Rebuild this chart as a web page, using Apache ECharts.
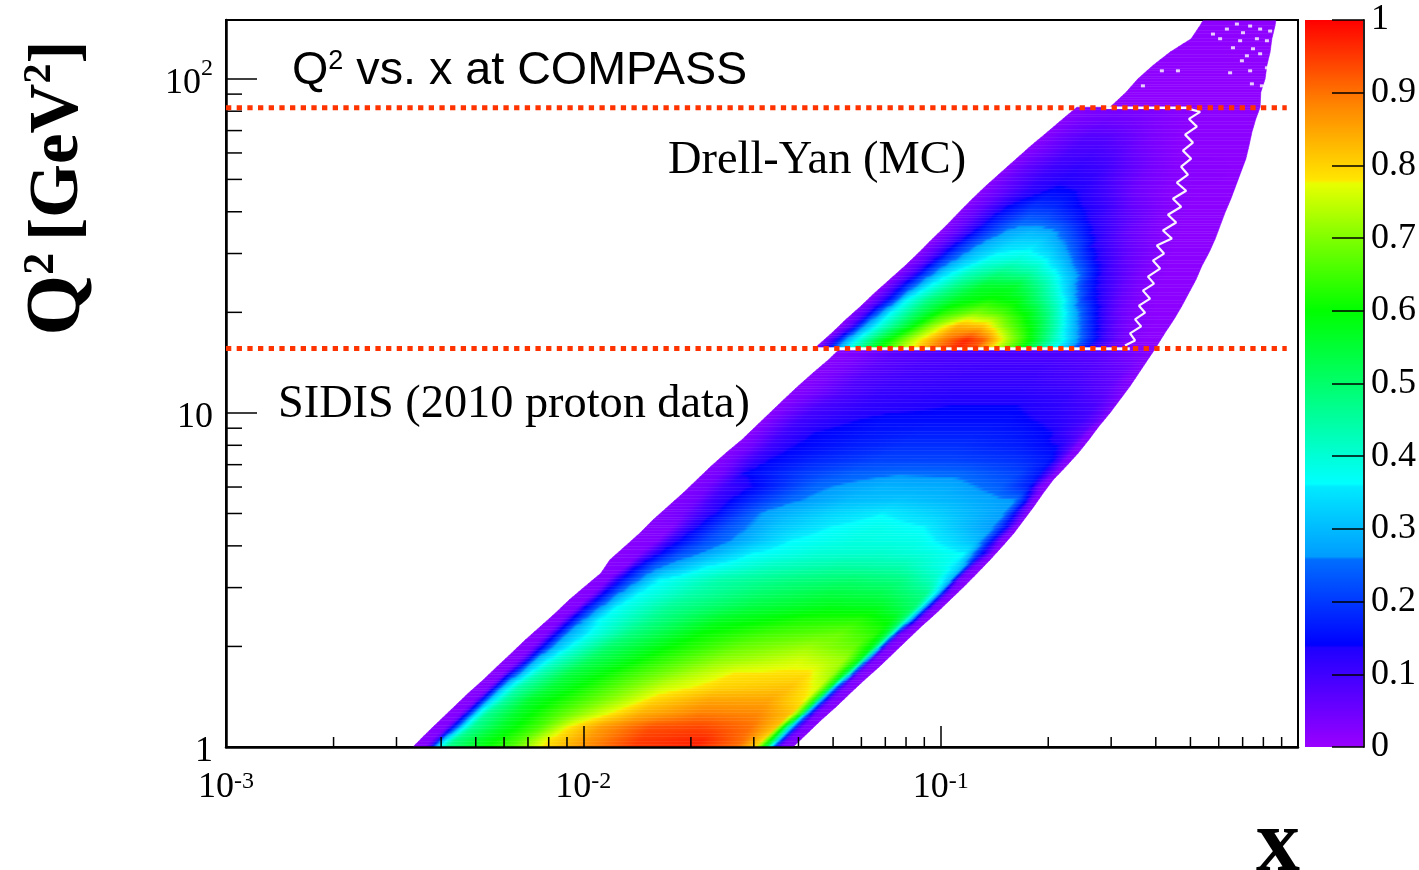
<!DOCTYPE html>
<html><head><meta charset="utf-8">
<style>html,body{margin:0;padding:0;background:#fff}#c{width:1419px;height:870px}</style>
<script src="https://cdn.jsdelivr.net/npm/echarts@6/dist/echarts.min.js"></script>
</head><body><div id="c"></div>
<script>
// ---------- axis ticks ----------
const xMinorTicks=[0.002,0.003,0.004,0.005,0.006,0.007,0.008,0.009,0.02,0.03,0.04,0.05,0.06,0.07,0.08,0.09,0.2,0.3,0.4,0.5,0.6,0.7,0.8,0.9];
const yMinorTicks=[2,3,4,5,6,7,8,9,20,30,40,50,60,70,80,90];
const xTickExponents={'-3':'-3','-2':'-2','-1':'-1'};
const yTickLabels={'0':'{b|1}','1':'{b|10}','2':'{b|10}{s|2}'};
// ---------- colour palette of the z scale ----------
const paletteLevels=[0,0.137,0.14,0.258,0.262,0.358,0.362,0.5,0.6,0.7,0.775,0.78,0.88,1];
const paletteColours=['#9900ff','#1e00ff','#0000ff','#006eff','#009cff','#00eaff','#00ffff','#00ff6a','#00ff00','#80ff00','#e8ff00','#ffe600','#ff8800','#ff0000'];
// ---------- cut lines (Q2 values) ----------
const cutQ2=[81.9,15.6];
const cutX=[0.001,0.93];
// ---------- SIDIS band: log10(Q2) row edges, log10(x) borders, [log10 x, z, ...] per row ----------
const sidisLogQ=[0,0.04,0.08,0.12,0.16,0.2,0.24,0.28,0.32,0.36,0.4,0.44,0.48,0.52,0.56,0.6,0.64,0.68,0.72,0.76,0.8,0.84,0.88,0.92,0.96,1,1.04,1.08,1.12,1.16,1.187];
const sidisLeft=[-2.477,-2.44,-2.401,-2.362,-2.323,-2.281,-2.242,-2.202,-2.163,-2.121,-2.079,-2.04,-1.996,-1.951,-1.926,-1.884,-1.842,-1.805,-1.763,-1.721,-1.682,-1.643,-1.601,-1.556,-1.517,-1.478,-1.439,-1.399,-1.357,-1.313,-1.287];
const sidisRight=[-1.413,-1.374,-1.335,-1.293,-1.254,-1.214,-1.172,-1.133,-1.094,-1.055,-1.013,-0.974,-0.935,-0.898,-0.862,-0.828,-0.795,-0.767,-0.739,-0.713,-0.685,-0.649,-0.615,-0.585,-0.557,-0.526,-0.498,-0.47,-0.445,-0.42,-0.403];
const sidisStops=[
[-2.46,.02,-2.42,.03,-2.41,.12,-2.39,.33,-2.36,.47,-2.29,.56,-2.18,.66,-2.10,.78,-1.98,.87,-1.84,.95,-1.67,.97,-1.55,.9,-1.50,.8,-1.47,.55,-1.455,.34,-1.44,.13,-1.43,.04,-1.39,.02],
[-2.42,.02,-2.38,.03,-2.37,.12,-2.34,.33,-2.31,.46,-2.23,.56,-2.12,.66,-2.04,.78,-1.95,.86,-1.81,.93,-1.67,.94,-1.53,.9,-1.46,.82,-1.44,.6,-1.42,.36,-1.40,.13,-1.39,.04,-1.35,.02],
[-2.38,.02,-2.34,.03,-2.33,.12,-2.30,.33,-2.27,.46,-2.19,.56,-2.07,.66,-1.95,.76,-1.84,.84,-1.67,.89,-1.51,.88,-1.42,.82,-1.39,.62,-1.38,.36,-1.36,.13,-1.35,.04,-1.32,.02],
[-2.34,.02,-2.30,.03,-2.29,.12,-2.26,.33,-2.22,.45,-2.15,.56,-2.01,.65,-1.88,.74,-1.80,.8,-1.65,.85,-1.48,.85,-1.38,.78,-1.35,.6,-1.34,.36,-1.32,.13,-1.31,.04,-1.27,.02],
[-2.30,.02,-2.26,.03,-2.25,.12,-2.22,.32,-2.18,.44,-2.09,.55,-1.95,.64,-1.78,.75,-1.62,.8,-1.42,.82,-1.34,.76,-1.31,.6,-1.30,.36,-1.28,.13,-1.27,.04,-1.23,.02],
[-2.26,.02,-2.22,.03,-2.21,.12,-2.17,.31,-2.13,.42,-2.04,.54,-1.87,.64,-1.70,.73,-1.58,.78,-1.37,.79,-1.30,.72,-1.27,.58,-1.25,.36,-1.24,.13,-1.23,.04,-1.20,.02],
[-2.22,.02,-2.18,.03,-2.16,.12,-2.13,.30,-2.08,.4,-1.98,.52,-1.81,.62,-1.62,.71,-1.39,.76,-1.27,.72,-1.23,.6,-1.21,.36,-1.20,.13,-1.19,.04,-1.15,.02],
[-2.18,.02,-2.14,.03,-2.12,.12,-2.08,.29,-2.03,.38,-1.93,.5,-1.76,.6,-1.56,.68,-1.37,.72,-1.24,.68,-1.19,.58,-1.17,.36,-1.16,.13,-1.15,.04,-1.12,.02],
[-2.14,.02,-2.10,.03,-2.08,.12,-2.04,.28,-1.98,.37,-1.87,.48,-1.67,.6,-1.48,.65,-1.28,.68,-1.18,.63,-1.15,.55,-1.13,.36,-1.12,.13,-1.11,.04,-1.08,.02],
[-2.10,.02,-2.06,.03,-2.04,.12,-2.00,.26,-1.96,.36,-1.81,.47,-1.62,.57,-1.39,.62,-1.23,.63,-1.14,.59,-1.11,.52,-1.09,.36,-1.07,.13,-1.06,.04,-1.04,.02],
[-2.06,.02,-2.01,.03,-2.00,.12,-1.95,.26,-1.91,.36,-1.76,.46,-1.53,.54,-1.31,.58,-1.17,.57,-1.07,.5,-1.05,.36,-1.03,.13,-1.02,.04,-0.99,.02],
[-2.02,.02,-1.97,.03,-1.95,.12,-1.90,.26,-1.85,.36,-1.70,.44,-1.51,.5,-1.31,.54,-1.17,.53,-1.04,.47,-1.01,.34,-0.99,.13,-0.98,.04,-0.95,.02],
[-1.98,.02,-1.93,.03,-1.91,.12,-1.85,.25,-1.79,.36,-1.62,.44,-1.42,.48,-1.25,.5,-1.11,.48,-1.02,.42,-0.97,.3,-0.96,.13,-0.95,.04,-0.92,.02],
[-1.94,.02,-1.88,.03,-1.86,.12,-1.80,.24,-1.66,.36,-1.48,.42,-1.28,.45,-1.11,.44,-0.99,.38,-0.95,.34,-0.93,.26,-0.92,.12,-0.91,.04,-0.88,.02],
[-1.89,.02,-1.84,.03,-1.80,.12,-1.73,.22,-1.53,.36,-1.34,.4,-1.17,.41,-1.03,.39,-0.93,.36,-0.91,.27,-0.89,.18,-0.87,.1,-0.86,.04,-0.85,.02],
[-1.85,.02,-1.79,.03,-1.75,.12,-1.65,.22,-1.42,.36,-1.23,.39,-1.06,.38,-0.97,.34,-0.90,.3,-0.88,.26,-0.85,.14,-0.84,.08,-0.83,.03,-0.81,.02],
[-1.82,.02,-1.75,.03,-1.70,.12,-1.60,.22,-1.46,.31,-1.31,.36,-1.17,.38,-1.04,.36,-0.95,.31,-0.85,.26,-0.81,.13,-0.80,.07,-0.79,.03,-0.78,.02],
[-1.79,.02,-1.72,.045,-1.67,.1,-1.60,.17,-1.49,.27,-1.31,.33,-1.16,.36,-1.03,.33,-0.90,.29,-0.82,.265,-0.79,.14,-0.77,.06,-0.76,.03,-0.75,.02],
[-1.75,.02,-1.68,.045,-1.64,.1,-1.56,.16,-1.42,.25,-1.25,.3,-1.11,.31,-0.95,.29,-0.79,.26,-0.76,.16,-0.75,.07,-0.74,.03,-0.73,.02],
[-1.71,.02,-1.65,.045,-1.60,.1,-1.51,.15,-1.35,.25,-1.16,.29,-0.97,.28,-0.83,.24,-0.75,.17,-0.73,.07,-0.72,.03,-0.70,.02],
[-1.67,.02,-1.61,.045,-1.57,.1,-1.55,.14,-1.39,.2,-1.25,.24,-1.11,.255,-0.95,.25,-0.78,.21,-0.72,.16,-0.69,.07,-0.68,.03,-0.67,.02],
[-1.62,.02,-1.58,.045,-1.53,.1,-1.48,.14,-1.34,.18,-1.17,.21,-0.97,.21,-0.78,.19,-0.69,.16,-0.66,.07,-0.65,.03,-0.63,.02],
[-1.58,.02,-1.53,.045,-1.48,.1,-1.41,.14,-1.25,.17,-1.11,.19,-0.95,.19,-0.78,.17,-0.67,.14,-0.63,.07,-0.62,.03,-0.60,.02],
[-1.53,.02,-1.50,.045,-1.44,.1,-1.35,.14,-1.20,.16,-1.06,.17,-0.89,.17,-0.78,.16,-0.69,.14,-0.60,.07,-0.59,.03,-0.57,.02],
[-1.49,.02,-1.46,.045,-1.39,.1,-1.28,.13,-1.16,.15,-0.97,.15,-0.81,.15,-0.69,.13,-0.60,.1,-0.56,.06,-0.54,.02],
[-1.45,.02,-1.41,.045,-1.34,.09,-1.20,.12,-0.97,.14,-0.79,.14,-0.67,.12,-0.57,.09,-0.53,.05,-0.51,.02],
[-1.41,.02,-1.36,.04,-1.28,.08,-1.17,.11,-0.97,.125,-0.78,.125,-0.64,.11,-0.54,.07,-0.50,.04,-0.48,.02],
[-1.37,.02,-1.31,.04,-1.23,.08,-1.11,.1,-0.95,.11,-0.75,.11,-0.61,.09,-0.51,.06,-0.48,.03,-0.46,.02],
[-1.33,.02,-1.27,.035,-1.18,.07,-1.06,.09,-0.89,.1,-0.72,.1,-0.58,.08,-0.48,.05,-0.43,.02],
[-1.30,.02,-1.23,.035,-1.14,.07,-1.00,.085,-0.83,.09,-0.67,.085,-0.55,.07,-0.47,.04,-0.41,.02]
];
// ---------- sliver joining the purple area across the SIDIS / Drell-Yan border ----------
const bridgeLogQ=[1.187,1.197];
const bridgeLeft=[-0.47,-0.47];
const bridgeRight=[-0.403,-0.397];
const bridgeStops=[[-0.47,.015,-0.4,.015]];
// ---------- Drell-Yan band ----------
const dyLogQ=[1.197,1.24,1.28,1.32,1.36,1.4,1.44,1.48,1.52,1.56,1.6,1.64,1.68,1.72,1.76,1.8,1.84,1.88,1.915];
const dyLeft=[-1.349,-1.304,-1.265,-1.223,-1.184,-1.142,-1.1,-1.061,-1.024,-0.985,-0.949,-0.912,-0.873,-0.831,-0.789,-0.747,-0.702,-0.658,-0.619];
const dyRight=[-0.397,-0.372,-0.347,-0.325,-0.305,-0.285,-0.269,-0.249,-0.232,-0.218,-0.204,-0.188,-0.174,-0.16,-0.146,-0.137,-0.129,-0.118,-0.106];
const dyStops=[
[-1.33,.02,-1.30,.1,-1.27,.25,-1.24,.36,-1.17,.55,-1.09,.72,-1.00,.88,-0.93,.97,-0.88,.92,-0.82,.75,-0.75,.6,-0.68,.42,-0.65,.36,-0.59,.2,-0.55,.12,-0.51,.06,-0.47,.03,-0.43,.015,-0.39,.015],
[-1.28,.02,-1.25,.08,-1.22,.24,-1.18,.37,-1.11,.52,-1.03,.7,-0.95,.84,-0.88,.82,-0.82,.7,-0.74,.58,-0.68,.44,-0.65,.36,-0.59,.2,-0.55,.12,-0.51,.06,-0.47,.03,-0.41,.015,-0.37,.015],
[-1.25,.02,-1.21,.08,-1.18,.22,-1.14,.36,-1.07,.5,-0.99,.63,-0.90,.7,-0.83,.66,-0.75,.58,-0.69,.46,-0.65,.36,-0.59,.2,-0.55,.12,-0.51,.06,-0.46,.03,-0.41,.015,-0.34,.015],
[-1.20,.02,-1.17,.08,-1.13,.2,-1.10,.35,-1.03,.48,-0.95,.57,-0.86,.61,-0.78,.58,-0.71,.47,-0.65,.36,-0.60,.2,-0.55,.12,-0.50,.06,-0.45,.03,-0.40,.015,-0.32,.015],
[-1.16,.02,-1.13,.08,-1.09,.2,-1.04,.35,-0.96,.47,-0.88,.56,-0.79,.56,-0.71,.45,-0.65,.34,-0.60,.2,-0.55,.12,-0.49,.06,-0.44,.03,-0.39,.015,-0.30,.015],
[-1.12,.02,-1.08,.08,-1.04,.2,-0.99,.33,-0.92,.42,-0.83,.48,-0.75,.45,-0.68,.37,-0.62,.27,-0.58,.18,-0.54,.11,-0.48,.06,-0.43,.03,-0.37,.015,-0.28,.015],
[-1.08,.02,-1.04,.07,-0.99,.2,-0.93,.31,-0.86,.38,-0.78,.4,-0.71,.37,-0.65,.29,-0.60,.2,-0.56,.13,-0.48,.06,-0.41,.03,-0.36,.015,-0.26,.015],
[-1.04,.02,-1.00,.07,-0.94,.19,-0.88,.29,-0.81,.34,-0.74,.35,-0.68,.3,-0.62,.22,-0.57,.13,-0.48,.06,-0.40,.03,-0.35,.015,-0.24,.015],
[-1.00,.02,-0.96,.06,-0.89,.17,-0.82,.27,-0.75,.3,-0.69,.28,-0.64,.22,-0.58,.14,-0.48,.06,-0.39,.025,-0.33,.015,-0.22,.015],
[-0.97,.02,-0.92,.06,-0.85,.16,-0.76,.24,-0.71,.23,-0.65,.19,-0.58,.13,-0.48,.07,-0.38,.025,-0.32,.015,-0.21,.015],
[-0.93,.02,-0.88,.06,-0.81,.14,-0.74,.19,-0.68,.18,-0.61,.14,-0.54,.11,-0.47,.06,-0.37,.025,-0.30,.015,-0.19,.015],
[-0.89,.02,-0.83,.06,-0.76,.12,-0.69,.15,-0.62,.14,-0.54,.1,-0.46,.05,-0.36,.02,-0.30,.015,-0.18,.015],
[-0.85,.02,-0.80,.06,-0.72,.11,-0.65,.13,-0.58,.12,-0.51,.08,-0.44,.045,-0.34,.02,-0.17,.015],
[-0.81,.02,-0.76,.06,-0.68,.1,-0.61,.115,-0.54,.1,-0.48,.07,-0.41,.04,-0.33,.02,-0.15,.015],
[-0.77,.02,-0.71,.05,-0.64,.09,-0.57,.095,-0.51,.08,-0.46,.055,-0.40,.035,-0.32,.015,-0.14,.015],
[-0.72,.02,-0.67,.05,-0.60,.08,-0.54,.08,-0.48,.06,-0.41,.035,-0.32,.015,-0.13,.015],
[-0.68,.02,-0.62,.045,-0.55,.06,-0.48,.05,-0.40,.03,-0.30,.015,-0.12,.015],
[-0.64,.02,-0.58,.035,-0.51,.04,-0.44,.035,-0.37,.025,-0.30,.015,-0.11,.015]
];
// ---------- sparse tail above the upper cut ----------
const tailLogQ=[1.915,1.96,2,2.04,2.08,2.12,2.16,2.174];
const tailLeft=[-0.526,-0.481,-0.448,-0.406,-0.358,-0.299,-0.274,-0.266];
const tailRight=[-0.106,-0.104,-0.092,-0.087,-0.078,-0.073,-0.064,-0.062];
const tailStops=[[-0.6,.012,-0.05,.012],[-0.6,.012,-0.05,.012],[-0.6,.012,-0.05,.012],[-0.6,.012,-0.05,.012],[-0.6,.012,-0.05,.012],[-0.6,.012,-0.05,.012],[-0.6,.012,-0.05,.012]];
// ---------- empty bins ----------
const holeTraceLogX=[-0.484,-0.456,-0.47,-0.439,-0.456,-0.428,-0.445,-0.414,-0.434,-0.403,-0.42,-0.386,-0.406,-0.375,-0.395,-0.353,-0.378,-0.341,-0.364,-0.327,-0.35,-0.313,-0.339,-0.308,-0.327,-0.299,-0.322,-0.294,-0.316,-0.283,-0.305,-0.274,-0.305];
const holeTraceLogQ=[1.202,1.217,1.238,1.259,1.28,1.3,1.321,1.342,1.366,1.387,1.408,1.432,1.456,1.477,1.501,1.522,1.546,1.57,1.593,1.617,1.641,1.665,1.689,1.713,1.737,1.761,1.785,1.809,1.833,1.857,1.88,1.901,1.91];
const upperGapLogX=[-0.55,-0.3];
const upperGapQ2=81.9;
const speckleLogX=[-0.171,-0.134,-0.199,-0.154,-0.106,-0.078,-0.238,-0.162,-0.115,-0.087,-0.218,-0.182,-0.126,-0.143,-0.106,-0.157,-0.087,-0.134,-0.19,-0.129,-0.101,-0.336,-0.381,-0.434];
const speckleLogQ=[2.164,2.158,2.149,2.138,2.149,2.143,2.134,2.114,2.12,2.114,2.12,2.093,2.09,2.069,2.075,2.054,2.033,2.024,2.018,1.985,1.979,2.024,2.024,1.979];

// ---------- assembling ----------
const p10=v=>Math.pow(10,v);
const hex=c=>[1,3,5].map(i=>parseInt(c.slice(i,i+2),16));
function colourOf(v){
  for(let i=1;i<paletteLevels.length;i++){
    if(v<=paletteLevels[i]){
      const t=(v-paletteLevels[i-1])/(paletteLevels[i]-paletteLevels[i-1]);
      const a=hex(paletteColours[i-1]),b=hex(paletteColours[i]);
      return 'rgb('+a.map((c,k)=>Math.round(c+(b[k]-c)*t)).join(',')+')';
    }
  }
  return paletteColours[paletteColours.length-1];
}
const rows=[];
function addBand(q,l,r,s){
  let prev=null;
  for(let i=0;i<s.length;i++){
    const row={q0:q[i],q1:q[i+1],l0:l[i],l1:l[i+1],r0:r[i],r1:r[i+1],stops:s[i],prev:prev,next:null};
    if(prev)prev.next=row;
    rows.push(row);prev=row;
  }
}
addBand(sidisLogQ,sidisLeft,sidisRight,sidisStops);
addBand(bridgeLogQ,bridgeLeft,bridgeRight,bridgeStops);
addBand(dyLogQ,dyLeft,dyRight,dyStops);
addBand(tailLogQ,tailLeft,tailRight,tailStops);

// A row's profile is read along lines of constant y (the sloping iso-lines of the band)
function profile(r,api){
  if(r.prof)return r.prof;
  const y0=api.coord([1,p10(r.q0)])[1],y1=api.coord([1,p10(r.q1)])[1],ym=(y0+y1)/2;
  const u=[],v=[];
  for(let i=0;i<r.stops.length;i+=2){u.push(api.coord([p10(r.stops[i]),10])[0]+ym);v.push(r.stops[i+1]);}
  r.prof={y0,y1,ym,u,v};
  return r.prof;
}
function valueAt(p,U){
  const u=p.u,v=p.v,n=u.length;
  if(U<=u[0])return v[0];
  if(U>=u[n-1])return v[n-1];
  for(let i=1;i<n;i++){if(U<=u[i]){return v[i-1]+(v[i]-v[i-1])*(U-u[i-1])/(u[i]-u[i-1]);}}
  return v[n-1];
}
// Smooth shading of one table row on screen, towards the neighbouring rows of the table
function renderRow(params,api){
  const r=rows[api.value(2)];
  const p=profile(r,api);
  const c=(a,b)=>api.coord([p10(a),p10(b)]);
  const pl0=c(r.l0,r.q0)[0],pl1=c(r.l1,r.q1)[0],pr0=c(r.r0,r.q0)[0],pr1=c(r.r1,r.q1)[0];
  const N=Math.max(1,Math.round((p.y0-p.y1)/2.5));
  const kids=[];
  for(let j=0;j<N;j++){
    const ta=j/N,tb=(j+1)/N;
    const ya=p.y0+(p.y1-p.y0)*ta,yb=p.y0+(p.y1-p.y0)*tb,sy=(ya+yb)/2;
    const other=sy>p.ym?r.prev:r.next;
    let f=0,po=null;
    if(other){po=profile(other,api);f=Math.abs(sy-p.ym)/Math.abs(po.ym-p.ym);}
    const Umin=Math.min(p.u[0],po?po.u[0]:Infinity),Umax=Math.max(p.u[p.u.length-1],po?po.u[po.u.length-1]:-Infinity);
    const n=Math.max(2,Math.ceil((Umax-Umin)/4));
    const colorStops=[];
    for(let k=0;k<=n;k++){
      const U=Umin+(Umax-Umin)*k/n;
      const z=po?(1-f)*valueAt(p,U)+f*valueAt(po,U):valueAt(p,U);
      colorStops.push({offset:k/n,color:colourOf(z)});
    }
    const x0=Umin-sy,a=(Umax-Umin)/2;
    const fill={type:'linear',global:true,x:x0,y:sy,x2:x0+a,y2:sy+a,colorStops};
    const pts=[[pl0+(pl1-pl0)*ta,ya],[pr0+(pr1-pr0)*ta,ya],[pr0+(pr1-pr0)*tb,yb],[pl0+(pl1-pl0)*tb,yb]];
    kids.push({type:'polygon',shape:{points:pts},style:{fill:fill,stroke:fill,lineWidth:0.5}});
  }
  return {type:'group',children:kids};
}
function renderXMinor(params,api){
  const p=api.coord([api.value(0),1]);
  return {type:'line',shape:{x1:p[0],y1:p[1],x2:p[0],y2:p[1]-10},style:{stroke:'#000',lineWidth:1.5}};
}
function renderYMinor(params,api){
  const p=api.coord([0.001,api.value(0)]);
  return {type:'line',shape:{x1:p[0],y1:p[1],x2:p[0]+16,y2:p[1]},style:{stroke:'#000',lineWidth:1.5}};
}
function renderBar(params,api){
  const a=api.coord([0,0]),b=api.coord([1,1]);
  const stops=paletteLevels.map((l,i)=>({offset:l,color:paletteColours[i]}));
  return {type:'rect',shape:{x:a[0],y:b[1],width:b[0]-a[0],height:a[1]-b[1]},
    style:{fill:{type:'linear',x:0,y:1,x2:0,y2:0,colorStops:stops}}};
}
const serif='"Liberation Serif"',sans='"Liberation Sans"';
const xTickRich={b:{fontFamily:serif,fontSize:36,color:'#000'},s:{fontFamily:serif,fontSize:24,color:'#000',verticalAlign:'top'}};
const yTickRich={b:{fontFamily:serif,fontSize:36,color:'#000',padding:[9,0,0,0]},s:{fontFamily:serif,fontSize:24,color:'#000',verticalAlign:'top'}};
const chart=echarts.init(document.getElementById('c'),null,{renderer:'canvas'});
chart.setOption({
  animation:false,backgroundColor:'#fff',
  grid:[
    {left:226,top:20,width:1072,height:727,show:true,borderColor:'#000',borderWidth:2,backgroundColor:'transparent'},
    {left:1305,top:20,width:60,height:727}
  ],
  xAxis:[
    {type:'log',logBase:10,min:0.001,max:1,gridIndex:0,z:6,splitLine:{show:false},
     axisLine:{lineStyle:{color:'#000',width:2.5}},
     axisTick:{inside:true,length:21,lineStyle:{color:'#000',width:1.5}},
     minorTick:{show:false},
     axisLabel:{margin:23,showMaxLabel:false,hideOverlap:false,
       formatter:v=>{const e=xTickExponents[String(Math.round(Math.log10(v)))];return e?'{b|10}{s|'+e+'}':'';},rich:xTickRich}},
    {type:'value',min:0,max:1,gridIndex:1,show:false}
  ],
  yAxis:[
    {type:'log',logBase:10,min:1,max:150,gridIndex:0,z:6,splitLine:{show:false},
     axisLine:{lineStyle:{color:'#000',width:2.5}},
     axisTick:{inside:true,length:31,lineStyle:{color:'#000',width:1.5}},
     minorTick:{show:false},
     axisLabel:{margin:13,showMaxLabel:false,
       formatter:v=>yTickLabels[String(Math.round(Math.log10(v)))]||'',rich:yTickRich}},
    {type:'value',min:0,max:1,interval:0.1,gridIndex:1,position:'right',z:6,splitLine:{show:false},
     axisLine:{show:true,onZero:false,lineStyle:{color:'#222',width:2}},
     axisTick:{show:true,inside:true,length:32,lineStyle:{color:'#000',width:1.5}},
     axisLabel:{margin:7,padding:[5,0,0,0],fontFamily:serif,fontSize:36,color:'#000',showMinLabel:true,showMaxLabel:true,verticalAlignMaxLabel:'middle',verticalAlignMinLabel:'middle'}}
  ],
  series:[
    {type:'custom',name:'z',xAxisIndex:0,yAxisIndex:0,coordinateSystem:'cartesian2d',silent:true,z:2,clip:false,
     renderItem:renderRow,encode:{x:0,y:1},
     data:rows.map((r,i)=>[p10((r.l0+r.r0)/2),p10((r.q0+r.q1)/2),i])},
    {type:'scatter',name:'empty bins',xAxisIndex:0,yAxisIndex:0,silent:true,z:3,symbol:'rect',symbolSize:[4,3],
     itemStyle:{color:'#fff'},data:speckleLogX.map((x,i)=>[p10(x),p10(speckleLogQ[i])])},
    {type:'line',name:'empty trace',xAxisIndex:0,yAxisIndex:0,silent:true,z:3,showSymbol:false,
     lineStyle:{color:'#fff',width:2.2,opacity:0.95},data:holeTraceLogX.map((x,i)=>[p10(x),p10(holeTraceLogQ[i])])},
    {type:'line',name:'upper gap',xAxisIndex:0,yAxisIndex:0,silent:true,z:3,showSymbol:false,
     lineStyle:{color:'#fff',width:2.5},data:upperGapLogX.map(x=>[p10(x),upperGapQ2])},
    {type:'custom',name:'x minor',xAxisIndex:0,yAxisIndex:0,silent:true,z:4,clip:false,renderItem:renderXMinor,encode:{x:0,y:1},
     data:xMinorTicks.map(v=>[v,1])},
    {type:'custom',name:'y minor',xAxisIndex:0,yAxisIndex:0,silent:true,z:4,clip:false,renderItem:renderYMinor,encode:{x:1,y:0},
     data:yMinorTicks.map(v=>[v,0.001])},
    {type:'line',name:'upper cut',xAxisIndex:0,yAxisIndex:0,silent:true,z:7,showSymbol:false,
     lineStyle:{color:'#ff3300',width:5,type:[5.3,5.37]},data:cutX.map(x=>[x,cutQ2[0]])},
    {type:'line',name:'lower cut',xAxisIndex:0,yAxisIndex:0,silent:true,z:7,showSymbol:false,
     lineStyle:{color:'#ff3300',width:5,type:[5.3,5.37]},data:cutX.map(x=>[x,cutQ2[1]])},
    {type:'custom',name:'scale',xAxisIndex:1,yAxisIndex:1,silent:true,z:1,renderItem:renderBar,encode:{x:0,y:1},data:[[0.5,0.5]]}
  ],
  graphic:[
    {type:'text',left:292,top:48,silent:true,style:{
      text:'{a|Q}{s|2}{a| vs. x at COMPASS}',fill:'#000',
      rich:{a:{fontFamily:sans,fontSize:46.7,color:'#000'},s:{fontFamily:sans,fontSize:27,color:'#000',verticalAlign:'top'}}}},
    {type:'text',left:668,top:138,silent:true,style:{text:'Drell-Yan (MC)',fill:'#000',fontFamily:serif,fontSize:46.4}},
    {type:'text',left:278,top:382,silent:true,style:{text:'SIDIS (2010 proton data)',fill:'#000',fontFamily:serif,fontSize:46.3}},
    {type:'text',left:1256,top:803,silent:true,style:{text:'x',fill:'#000',fontFamily:serif,fontWeight:'bold',fontSize:88}},
    {type:'text',x:59,y:188,rotation:Math.PI/2,originX:0,originY:0,silent:true,style:{
      text:'{q|Q}{s|2}{g|[GeV}{t|2}{g|]}',fill:'#000',align:'center',verticalAlign:'middle',
      rich:{q:{fontFamily:serif,fontWeight:'bold',fontSize:78,color:'#000'},
            s:{fontFamily:serif,fontWeight:'bold',fontSize:44,color:'#000',verticalAlign:'top',padding:[0,12,0,0]},
            g:{fontFamily:serif,fontWeight:'bold',fontSize:69,color:'#000'},
            t:{fontFamily:serif,fontWeight:'bold',fontSize:40,color:'#000',verticalAlign:'top'}}}}
  ]
});
</script></body></html>
